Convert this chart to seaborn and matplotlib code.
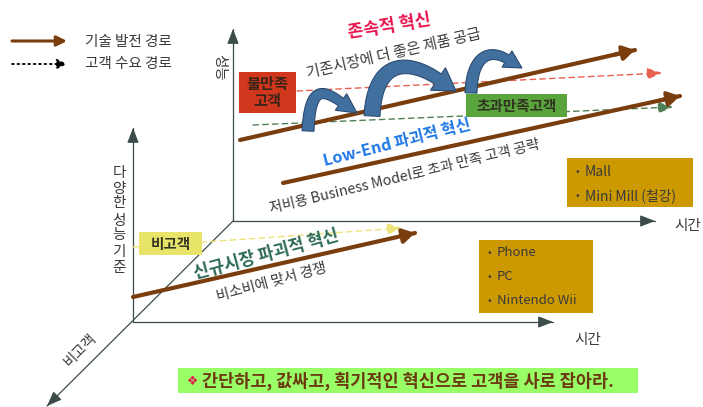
import matplotlib
matplotlib.use("Agg")
import matplotlib.pyplot as plt
import seaborn as sns
import numpy as np
import pandas as pd
from matplotlib.patches import Rectangle, Polygon

# technology paths (solid brown arrows), pixel coords of the slide
tech_names = ["sustaining", "low_end", "new_market"]
tech_x0 = [240, 283, 133]
tech_y0 = [140, 183, 297]
tech_x1 = [635, 680, 415]
tech_y1 = [50, 96, 233]

# customer demand paths (dashed arrows)
demand_names = ["unsatisfied", "over_served", "non_consumer"]
demand_x0 = [297, 253, 133]
demand_y0 = [91, 125, 247]
demand_x1 = [662, 673, 402]
demand_y1 = [73, 107, 228]
demand_colors = ["#e8604f", "#4f7f55", "#ece37a"]

# curly "jump" arrows on the sustaining path: tail, head base, tip, top control
curl_start = [(308, 131), (372, 116), (471, 93)]
curl_base = [(341, 102), (438, 79), (507, 59)]
curl_tip = [(357, 113), (456, 91), (522, 68)]
curl_ctrl = [(310, 85), (375, 58), (472, 55)]
curl_back = [22, 35, 20]
curl_width = [(12, 9), (16, 12), (12, 9)]
curl_headw = [20, 27, 19]

mall_items = ["Mall", "Mini Mill (철강)"]
phone_items = ["Phone", "PC", "Nintendo Wii"]

# stacked vertical label "다양한 성능 기준"
side_chars = ["다", "양", "한", "성", "능", "기", "준"]
side_y = [173, 189, 203, 221, 235, 252, 268]

BROWN = "#7a3d0e"
AXIS = "#3c4c4a"
TXT = "#3a3a3a"

sns.set_theme(style="white")
plt.rcParams['font.family'] = ['Noto Sans CJK KR', 'DejaVu Sans']

fig = plt.figure(figsize=(7.03, 4.07), dpi=100)
ax = fig.add_axes([0, 0, 1, 1])
ax.set_xlim(0, 703)
ax.set_ylim(407, 0)
ax.axis("off")


def arrow(x0, y0, x1, y1, color, lw=1.0, ls="-", hl=0.8, hw=0.4, ms=10, z=2):
    ax.annotate("", xy=(x1, y1), xytext=(x0, y0),
                arrowprops=dict(arrowstyle=f"-|>,head_length={hl},head_width={hw}",
                                color=color, lw=lw, ls=ls, shrinkA=0, shrinkB=0,
                                mutation_scale=ms), zorder=z)


def curly(s, e, tip, c1, back, widths, headw):
    s, e, tip, c1 = (np.array(v, float) for v in (s, e, tip, c1))
    d = (tip - e) / np.linalg.norm(tip - e)
    c2 = e - back * d
    t = np.linspace(0, 1, 60)[:, None]
    pts = (1 - t) ** 3 * s + 3 * (1 - t) ** 2 * t * c1 + 3 * (1 - t) * t ** 2 * c2 + t ** 3 * e
    tan = 3 * (1 - t) ** 2 * (c1 - s) + 6 * (1 - t) * t * (c2 - c1) + 3 * t ** 2 * (e - c2)
    tan /= np.linalg.norm(tan, axis=1)[:, None]
    nrm = np.column_stack([-tan[:, 1], tan[:, 0]])
    w = (widths[0] + (widths[1] - widths[0]) * t) / 2
    left = pts + nrm * w
    right = pts - nrm * w
    ne = np.array([-d[1], d[0]])
    head = [e + ne * headw / 2, tip, e - ne * headw / 2]
    poly = np.vstack([left, head, right[::-1]])
    ax.add_patch(Polygon(poly, closed=True, fc="#41709f", ec="#2b4a72", lw=0.8, zorder=4))


# axes of the two planes
axes_df = pd.DataFrame({
    "x": [233, 233, 233, 655, 133, 133, 133, 553, 233, 47],
    "y": [221, 29, 221, 221, 322, 128, 322, 322, 221, 406],
    "seg": ["bv", "bv", "bh", "bh", "fv", "fv", "fh", "fh", "dg", "dg"],
})
sns.lineplot(data=axes_df, x="x", y="y", units="seg", estimator=None, sort=False,
             color=AXIS, lw=0.9, ax=ax, legend=False)
for seg, g in axes_df.groupby("seg", sort=False):
    x0, x1 = g["x"].values
    y0, y1 = g["y"].values
    arrow(x1 - (x1 - x0) * 0.03, y1 - (y1 - y0) * 0.03, x1, y1, AXIS, lw=0.9,
          hl=0.9, hw=0.35)

# demand paths (dashed)
for i in range(len(demand_names)):
    arrow(demand_x0[i], demand_y0[i], demand_x1[i], demand_y1[i],
          demand_colors[i], lw=1.0, ls=(0, (4, 3)), hl=0.9, hw=0.35, z=2)

# technology paths
tech_df = pd.DataFrame({
    "x": sum([[a, b] for a, b in zip(tech_x0, tech_x1)], []),
    "y": sum([[a, b] for a, b in zip(tech_y0, tech_y1)], []),
    "path": sum([[n, n] for n in tech_names], []),
})
sns.lineplot(data=tech_df, x="x", y="y", units="path", estimator=None, sort=False,
             color=BROWN, lw=3.0, ax=ax, legend=False, zorder=3)
for i in range(len(tech_names)):
    dx, dy = tech_x1[i] - tech_x0[i], tech_y1[i] - tech_y0[i]
    arrow(tech_x1[i] - dx * 0.05, tech_y1[i] - dy * 0.05, tech_x1[i], tech_y1[i],
          BROWN, lw=3.0, hl=0.5, hw=0.3, ms=14, z=3)

ax.set_xlabel("")
ax.set_ylabel("")
ax.set_xlim(0, 703)
ax.set_ylim(407, 0)

# curly arrows
for i in range(len(curl_start)):
    curly(curl_start[i], curl_base[i], curl_tip[i], curl_ctrl[i], curl_back[i],
          curl_width[i], curl_headw[i])

# legend
arrow(12, 41, 67, 41, BROWN, lw=2.2, hl=0.6, hw=0.3)
arrow(12, 64, 67, 64, "black", lw=1.3, ls=(0, (1, 2)), hl=0.6, hw=0.3)
ax.text(85, 42, "기술 발전 경로", fontsize=10.5, color=TXT, va="center")
ax.text(85, 64, "고객 수요 경로", fontsize=10.5, color=TXT, va="center")

# boxes
def box(x0, y0, x1, y1, fc, z=5):
    ax.add_patch(Rectangle((x0, y0), x1 - x0, y1 - y0, fc=fc, ec="none", zorder=z))

box(239, 72, 296, 113, "#d0371c")
ax.text(267.5, 92.5, "불만족\n고객", ha="center", va="center", fontsize=11,
        fontweight="bold", color="#3a2418", linespacing=1.05, zorder=6)
box(466, 94, 567, 117, "#5aa43e")
ax.text(516.5, 105.5, "초과만족고객", ha="center", va="center", fontsize=10.5,
        fontweight="bold", color="#2f3320", zorder=6)
box(139, 232, 202, 255, "#e8e46a")
ax.text(170.5, 243.5, "비고객", ha="center", va="center", fontsize=10.5,
        fontweight="bold", color="#333320", zorder=6)

box(567, 158, 693, 207, "#cc9900")
for i, item in enumerate(mall_items):
    ax.text(575, 172 + 24 * i, "•", fontsize=8, color=TXT, va="center", zorder=6)
    ax.text(585, 172 + 24 * i, item, fontsize=10, color=TXT, va="center", zorder=6)
box(479, 240, 593, 313, "#cc9900")
for i, item in enumerate(phone_items):
    ax.text(488, 253 + 24 * i, "•", fontsize=8, color=TXT, va="center", zorder=6)
    ax.text(497, 253 + 24 * i, item, fontsize=9.5, color=TXT, va="center", zorder=6)

# slanted labels
ax.text(389, 27, "존속적 혁신", rotation=9, ha="center", va="center", fontsize=12.5,
        fontweight="bold", color="#e8174d")
ax.text(394, 54, "기존시장에 더 좋은 제품 공급", rotation=13, ha="center", va="center",
        fontsize=10.8, color=TXT)
ax.text(397, 143, "Low-End 파괴적 혁신", rotation=14, ha="center", va="center",
        fontsize=11.6, fontweight="bold", color="#1e78e6")
ax.text(405, 177, "저비용 Business Model로 초과 만족 고객 공략", rotation=13.5,
        ha="center", va="center", fontsize=10.3, color=TXT)
ax.text(266, 255, "신규시장 파괴적 혁신", rotation=15, ha="center", va="center",
        fontsize=12.3, fontweight="bold", color="#2e6b55")
ax.text(272, 282, "비소비에 맞서 경쟁", rotation=15, ha="center", va="center",
        fontsize=10.5, color=TXT)

# axis labels
ax.text(219, 67, "성능", rotation=-90, ha="center", va="center", fontsize=10.5, color=TXT)
for ch, yy in zip(side_chars, side_y):
    ax.text(119, yy, ch, ha="center", va="center", fontsize=10.5, color=TXT)
ax.text(688, 226, "시간", ha="center", va="center", fontsize=10.5, color=TXT)
ax.text(588, 340, "시간", ha="center", va="center", fontsize=10.5, color=TXT)
ax.text(80, 350, "비고객", rotation=45, ha="center", va="center", fontsize=10.5, color=TXT)

# bottom banner
box(178, 368, 638, 393, "#99ff66")
ax.text(187, 381, "❖", fontsize=9, color="#e8174d", va="center", zorder=6,
        family=["DejaVu Sans"])
ax.text(202, 381, "간단하고, 값싸고, 획기적인 혁신으로 고객을 사로 잡아라.", fontsize=12.6,
        fontweight="bold", color="#6b3a10", va="center", zorder=6)

fig.savefig("out.png", dpi=100)
